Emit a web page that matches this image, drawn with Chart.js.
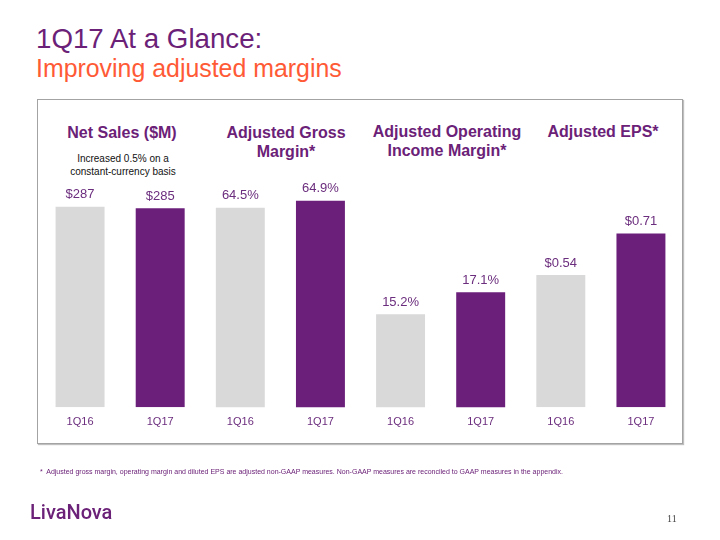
<!DOCTYPE html>
<html>
<head>
<meta charset="utf-8">
<script src="https://cdn.jsdelivr.net/npm/chart.js@4/dist/chart.umd.min.js"></script>
<style>
  html, body { margin:0; padding:0; background:#fff; }
  body { width:720px; height:540px; position:relative; overflow:hidden; font-family:"Liberation Sans", Arial, sans-serif; }
  .abs { position:absolute; white-space:nowrap; }
  #box { position:absolute; left:37px; top:99px; width:644px; height:343px; border:1px solid #A3A3A3; box-shadow:1px 1px 1px rgba(0,0,0,0.25); }
  .hdr { position:absolute; font-weight:bold; font-size:16px; line-height:19px; color:#6B2177; text-align:center; transform:translateX(-50%); white-space:nowrap; }
  canvas { position:absolute; left:0; top:0; }
</style>
</head>
<body>
<div class="abs" style="left:36px; top:24.6px; font-size:27.7px; line-height:27.7px; color:#6B2177;">1Q17 At a Glance:</div>
<div class="abs" style="left:36px; top:56.2px; font-size:24.9px; line-height:24.9px; color:#FF5A36;">Improving adjusted margins</div>
<div id="box"></div>
<div class="hdr" style="left:122px; top:123.3px;">Net Sales ($M)</div>
<div class="hdr" style="left:286px; top:123.3px;">Adjusted Gross<br>Margin*</div>
<div class="hdr" style="left:447px; top:122px;">Adjusted Operating<br>Income Margin*</div>
<div class="hdr" style="left:603px; top:122px;">Adjusted EPS*</div>
<div class="abs" style="left:123px; top:152.8px; transform:translateX(-50%); font-size:10px; line-height:12.7px; color:#111; text-align:center;">Increased 0.5% on a<br>constant-currency basis</div>
<canvas id="c" width="720" height="540"></canvas>
<div class="abs" style="left:40px; top:467px; font-size:7px; line-height:9px; color:#6B2177;">*&nbsp; Adjusted gross margin, operating margin and diluted EPS are adjusted non-GAAP measures. Non-GAAP measures are reconciled to GAAP measures in the appendix.</div>
<div class="abs" style="left:30px; top:502px; font-family:Roboto, sans-serif; font-weight:500; font-size:20px; line-height:20px; color:#6B2177;">LivaNova</div>
<div class="abs" style="left:667px; top:514px; font-family:'Liberation Serif', serif; font-size:10px; line-height:10px; color:#444;">11</div>
<script>
const categories = ['1Q16','1Q17','1Q16','1Q17','1Q16','1Q17','1Q16','1Q17'];
const netSales = [287, 285];
const grossMargin = [64.5, 64.9];
const opMargin = [15.2, 17.1];
const eps = [0.54, 0.71];

const GRAY = '#D9D9D9';
const PURPLE = '#6B1F7B';
const LABEL = '#6B2D7D';

function placed(vals, pos) {
  const arr = new Array(categories.length).fill(null);
  vals.forEach((v, i) => { arr[pos + i] = v; });
  return arr;
}

const groups = [
  { data: placed(netSales, 0), axis: 'yNS', pre: '$', suf: '', dec: 0 },
  { data: placed(grossMargin, 2), axis: 'yGM', pre: '', suf: '%', dec: 1 },
  { data: placed(opMargin, 4), axis: 'yOM', pre: '', suf: '%', dec: 1 },
  { data: placed(eps, 6), axis: 'yEPS', pre: '$', suf: '', dec: 2 }
];

const valueLabels = {
  id: 'valueLabels',
  afterDatasetsDraw(chart) {
    const ctx = chart.ctx;
    ctx.save();
    ctx.font = '13px "Liberation Sans", Arial, sans-serif';
    ctx.fillStyle = LABEL;
    ctx.textAlign = 'center';
    ctx.textBaseline = 'middle';
    chart.data.datasets.forEach((ds, di) => {
      const meta = chart.getDatasetMeta(di);
      const g = groups[di];
      meta.data.forEach((el, i) => {
        const v = ds.data[i];
        if (v === null || v === undefined) return;
        ctx.fillText(g.pre + v.toFixed(g.dec) + g.suf, el.x, el.y - 12);
      });
    });
    ctx.restore();
  }
};

new Chart(document.getElementById('c'), {
  type: 'bar',
  data: {
    labels: categories,
    datasets: groups.map(g => ({
      data: g.data,
      yAxisID: g.axis,
      skipNull: true,
      backgroundColor: c => (c.dataIndex % 2 ? PURPLE : GRAY),
      borderWidth: 0,
      categoryPercentage: 1,
      barPercentage: 0.611
    }))
  },
  options: {
    responsive: false,
    animation: false,
    layout: { padding: { left: 40, right: 39, top: 180, bottom: 103.3 } },
    plugins: { legend: { display: false }, tooltip: { enabled: false } },
    scales: {
      x: {
        grid: { display: false, drawTicks: false },
        border: { display: false },
        ticks: { color: LABEL, font: { family: '"Liberation Sans", Arial, sans-serif', size: 11 }, padding: 8.1 }
      },
      yNS: { display: false, min: 0, max: 325.4 },
      yGM: { display: false, min: 53.1, max: 66.09 },
      yOM: { display: false, min: 7.17, max: 26.8 },
      yEPS: { display: false, min: 0, max: 0.928 }
    }
  },
  plugins: [valueLabels]
});
</script>
</body>
</html>
